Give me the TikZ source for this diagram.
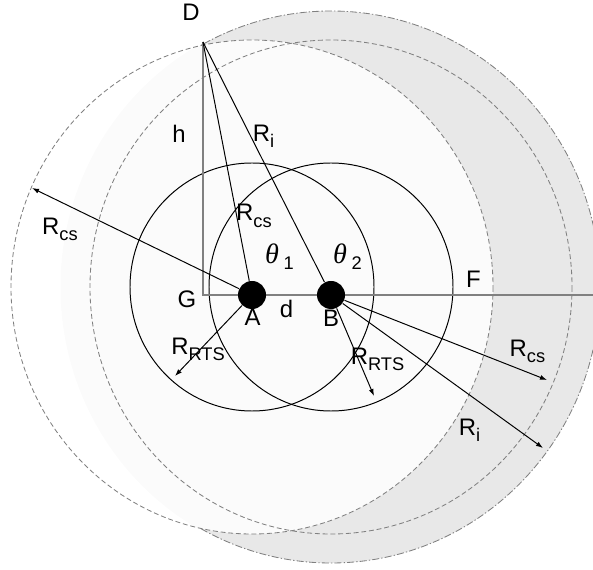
\documentclass[tikz,border=0pt]{standalone}
\usepackage{fontspec}
\setmainfont{Liberation Sans}
\newfontfamily\thetafont{Liberation Serif}
\usetikzlibrary{arrows.meta}
\newcommand{\sub}[1]{\raisebox{-4.5pt}{\fontsize{13}{13}\selectfont #1}}

\begin{document}
\begin{tikzpicture}[x=0.025cm,y=-0.025cm,line width=0.7pt,
  every node/.style={font=\fontsize{17}{20}\selectfont,inner sep=0pt},
  dot/.style={circle,fill=black,minimum size=0.7cm},
  rcs/.style={gray,line width=0.6pt,dash pattern=on 3.5pt off 2pt},
  ri/.style={gray,line width=0.6pt,dash pattern=on 5pt off 1.5pt on 1pt off 1.5pt},
  ray/.style={-{Latex[length=5pt,width=3.5pt]}},
  ang/.style={font=\fontsize{20}{24}\selectfont}]
\useasboundingbox (0,0) rectangle (593,570);
\clip (0,0) rectangle (593,570);
\coordinate (ca) at (252,287);
\coordinate (cb) at (331,287);
% interference range of B, lighter where A senses the carrier
\fill[gray!18] (cb) ellipse [x radius=269,y radius=276];
\draw[ri] (cb) ellipse [x radius=269,y radius=276];
\begin{scope}
\clip (cb) ellipse [x radius=270.5,y radius=277.5];
\fill[gray!3] (ca) ellipse [x radius=241,y radius=247];
\end{scope}
\foreach \p in {ca,cb}{
  \draw[rcs] (\p) ellipse [x radius=241,y radius=247];
  \draw (\p) ellipse [x radius=122,y radius=124];
}
% h and the axis through A and B
\coordinate (d) at (203,42);
\coordinate (g) at (203,295);
\coordinate (e) at (593,295);
\draw[gray,line width=1.3pt] (d) -- (g) -- (e);
\node[dot] (a) at (252,295) {};
\node[dot] (b) at (331,295) {};
\draw (d) -- (a);
\draw (d) -- (b);
% range arrows
\coordinate (tipAcs) at (32,188);
\coordinate (tipArts) at (175,376);
\coordinate (tipBrts) at (374,396);
\coordinate (tipBcs) at (547,380);
\coordinate (tipBi) at (543,448);
\draw[ray] (a) -- (tipAcs);
\draw[ray] (a) -- (tipArts);
\draw[ray] (b) -- (tipBrts);
\draw[ray] (b) -- (tipBcs);
\draw[ray] (b) -- (tipBi);
% labels
\node (labD) at (191,12.5) {D};
\node (labh) at (179,133.5) {h};
\node (labRi) at (263.5,136.5) {R\sub{i}};
\node (labRcs) at (254,216) {R\sub{cs}};
\node[ang] (labt1) at (279.5,256.5) {{\thetafont\itshape θ}\,\sub{1}};
\node[ang] (labt2) at (347.5,256.5) {{\thetafont\itshape θ}\,\sub{2}};
\node (labAcs) at (60,229.5) {R\sub{cs}};
\node (labG) at (187,299.5) {G};
\node (labA) at (252.5,317.5) {A};
\node (labd) at (286.5,308.5) {d};
\node (labB) at (331,318) {B};
\node (labF) at (473.5,279) {F};
\node (labArts) at (198,349.5) {R\sub{RTS}};
\node (labBrts) at (377.5,359.5) {R\sub{RTS}};
\node (labBcs) at (527.5,351.5) {R\sub{cs}};
\node (labBi) at (469.5,430) {R\sub{i}};
\end{tikzpicture}
\end{document}
